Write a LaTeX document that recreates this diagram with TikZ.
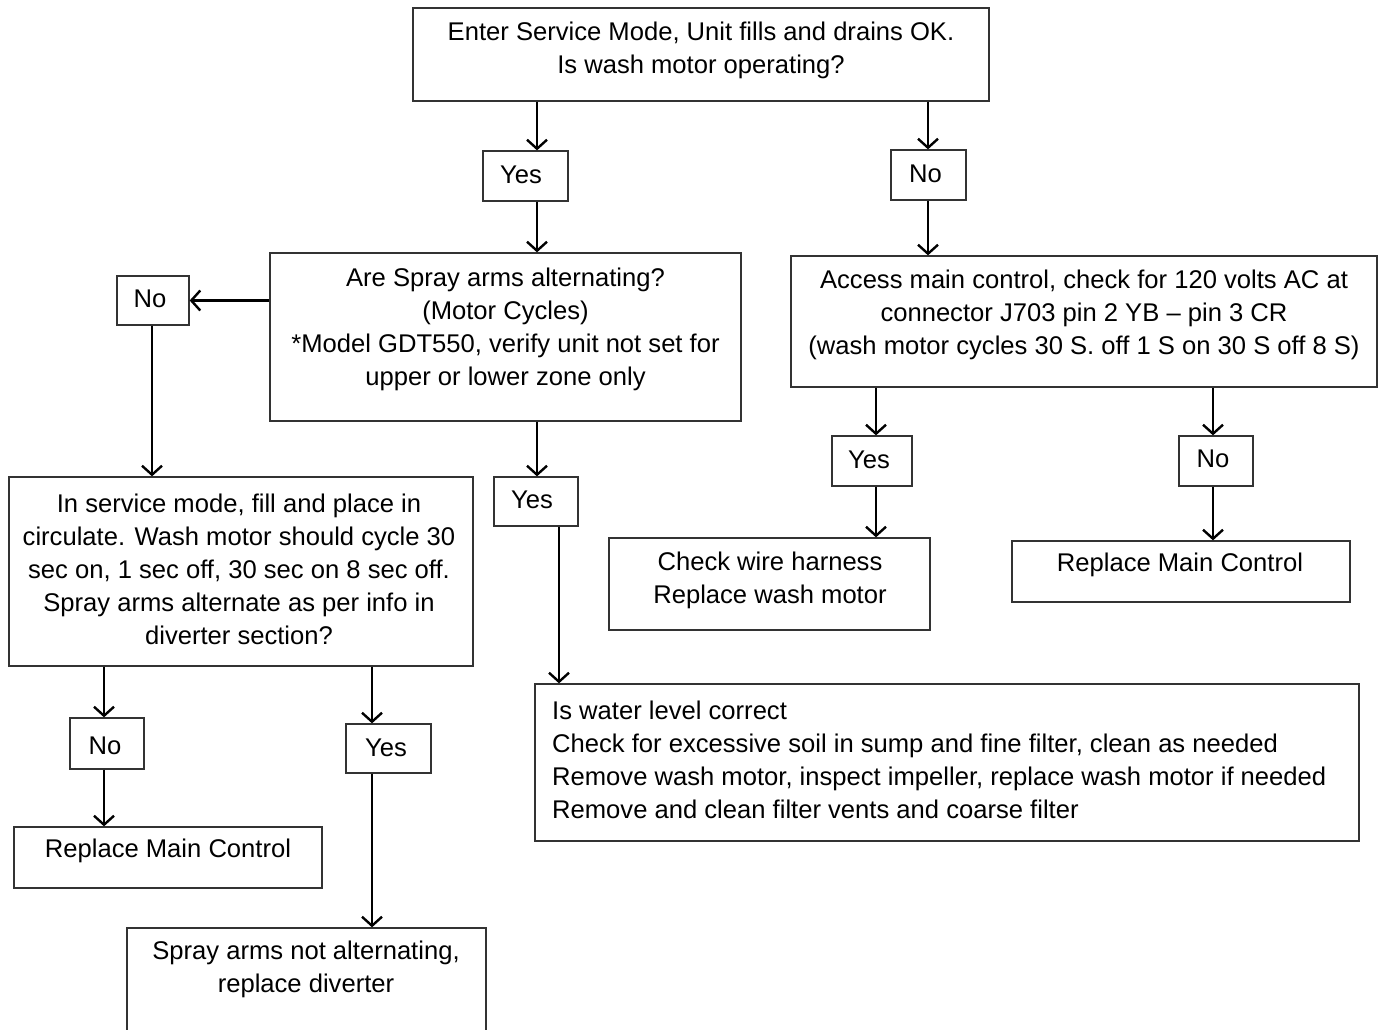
\documentclass[tikz,border=0pt]{standalone}
\usepackage{fontspec}
\setmainfont{Liberation Sans}
\usetikzlibrary{arrows.meta}

\begin{document}
\begin{tikzpicture}[x=1pt, y=-1pt, >={Straight Barb[length=9pt,width=20pt]},
  box/.style={draw=black!80, line width=1.3pt, inner sep=0pt},
  txt/.style={align=center, inner sep=0pt, font=\fontsize{25.6}{33}\selectfont},
  link/.style={->, line width=2.4pt}]
  \clip (0,0) rectangle (1382,1029);
  \fill[white] (0,0) rectangle (1382,1029);

  % boxes
  \node[box, minimum width=576pt, minimum height=93pt] (enter) at (701,54.5) {};
  \node[box, minimum width=85pt, minimum height=50pt] (yes1) at (525.5,176) {};
  \node[box, minimum width=75pt, minimum height=50pt] (no1) at (928.5,175) {};
  \node[box, minimum width=471pt, minimum height=168pt] (spray) at (505.5,337) {};
  \node[box, minimum width=72pt, minimum height=49pt] (no2) at (153,300.5) {};
  \node[box, minimum width=586pt, minimum height=131pt] (access) at (1084,321.5) {};
  \node[box, minimum width=464pt, minimum height=189pt] (service) at (241,571.5) {};
  \node[box, minimum width=84pt, minimum height=49pt] (yes2) at (536,501.5) {};
  \node[box, minimum width=80pt, minimum height=50pt] (yes3) at (872,461) {};
  \node[box, minimum width=74pt, minimum height=50pt] (no3) at (1216,461) {};
  \node[box, minimum width=321pt, minimum height=92pt] (harness) at (769.5,584) {};
  \node[box, minimum width=338pt, minimum height=61pt] (control1) at (1181,571.5) {};
  \node[box, minimum width=824pt, minimum height=157pt] (water) at (947,762.5) {};
  \node[box, minimum width=74pt, minimum height=51pt] (no4) at (107,743.5) {};
  \node[box, minimum width=85pt, minimum height=49pt] (yes4) at (388.5,748.5) {};
  \node[box, minimum width=308pt, minimum height=61pt] (control2) at (168,857.5) {};
  \node[box, minimum width=359pt, minimum height=112pt] (diverter) at (306.5,984) {};

  % texts
  \node[txt] (enter-t) at (701,50.5) {Enter Service Mode, Unit fills and drains OK.\\Is wash motor operating?};
  \node[txt] (yes1-t) at (521,175) {Yes};
  \node[txt] (no1-t) at (925.5,174) {No};
  \node[txt] (spray-t) at (505.5,329) {Are Spray arms alternating?\\(Motor Cycles)\\*Model GDT550, verify unit not set for\\upper or lower zone only};
  \node[txt] (no2-t) at (150,299) {No};
  \node[txt] (access-t) at (1084,314.5) {Access main control, check for 120 volts AC at\\connector J703 pin 2 YB -- pin 3 CR\\(wash motor cycles 30 S. off 1 S on 30 S off 8 S)};
  \node[txt] (service-t) at (239,569.5) {In service mode, fill and place in\\circulate. Wash motor should cycle 30\\sec on, 1 sec off, 30 sec on 8 sec off.\\Spray arms alternate as per info in\\diverter section?};
  \node[txt] (yes2-t) at (532,500) {Yes};
  \node[txt] (yes3-t) at (869,460) {Yes};
  \node[txt] (no3-t) at (1213,459) {No};
  \node[txt] (harness-t) at (770,580) {Check wire harness\\Replace wash motor};
  \node[txt] (control1-t) at (1180,565) {Replace Main Control};
  \node[txt, align=left, anchor=west] (water-t) at (552,760) {Is water level correct\\Check for excessive soil in sump and fine filter, clean as needed\\Remove wash motor, inspect impeller, replace wash motor if needed\\Remove and clean filter vents and coarse filter};
  \node[txt] (no4-t) at (105,746) {No};
  \node[txt] (yes4-t) at (386,748) {Yes};
  \node[txt] (control2-t) at (168,851) {Replace Main Control};
  \node[txt] (diverter-t) at (306,969) {Spray arms not alternating,\\replace diverter};

  % arrow columns
  \coordinate (colA) at (537,0);
  \coordinate (colB) at (928,0);
  \coordinate (colC) at (152,0);
  \coordinate (colD) at (559,0);
  \coordinate (colE) at (876,0);
  \coordinate (colF) at (1213,0);
  \coordinate (colG) at (104,0);
  \coordinate (colH) at (372,0);

  % connectors
  \draw[link] (enter.south -| colA) -- (yes1.north -| colA);
  \draw[link] (enter.south -| colB) -- (no1.north -| colB);
  \draw[link] (yes1.south -| colA) -- (spray.north -| colA);
  \draw[link] (no1.south -| colB) -- (access.north -| colB);
  \draw[link] (spray.west |- no2) -- (no2.east);
  \draw[link] (no2.south -| colC) -- (service.north -| colC);
  \draw[link] (spray.south -| colA) -- (yes2.north -| colA);
  \draw[link] (yes2.south -| colD) -- (water.north -| colD);
  \draw[link] (access.south -| colE) -- (yes3.north -| colE);
  \draw[link] (access.south -| colF) -- (no3.north -| colF);
  \draw[link] (yes3.south -| colE) -- (harness.north -| colE);
  \draw[link] (no3.south -| colF) -- (control1.north -| colF);
  \draw[link] (service.south -| colG) -- (no4.north -| colG);
  \draw[link] (service.south -| colH) -- (yes4.north -| colH);
  \draw[link] (no4.south -| colG) -- (control2.north -| colG);
  \draw[link] (yes4.south -| colH) -- (diverter.north -| colH);
\end{tikzpicture}
\end{document}
